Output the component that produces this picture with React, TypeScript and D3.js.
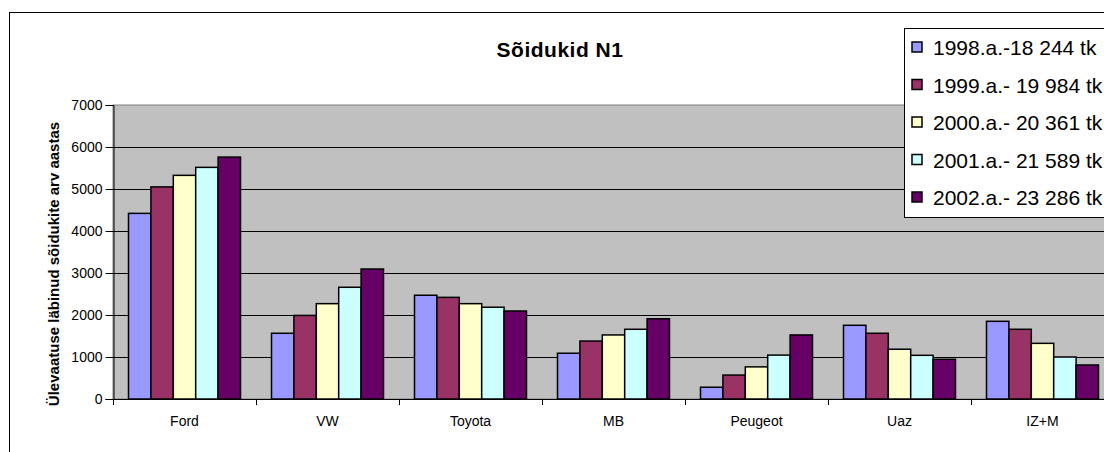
import React, { useEffect, useRef } from 'react';
import * as d3 from 'd3';

const categories = ['Ford', 'VW', 'Toyota', 'MB', 'Peugeot', 'Uaz', 'IZ+M'];
const seriesNames = [
  '1998.a.-18 244 tk',
  '1999.a.- 19 984 tk',
  '2000.a.- 20 361 tk',
  '2001.a.- 21 589 tk',
  '2002.a.- 23 286 tk',
];
const colors = ['#9999FF', '#993366', '#FFFFCC', '#CCFFFF', '#660066'];

const v1998 = [4420, 1565, 2470, 1090, 280, 1755, 1850];
const v1999 = [5050, 1990, 2420, 1380, 570, 1565, 1660];
const v2000 = [5325, 2270, 2270, 1525, 765, 1185, 1325];
const v2001 = [5515, 2660, 2185, 1660, 1045, 1040, 1000];
const v2002 = [5760, 3095, 2095, 1910, 1525, 945, 810];
const seriesValues = [v1998, v1999, v2000, v2001, v2002];

const yTicks = [0, 1000, 2000, 3000, 4000, 5000, 6000, 7000];

const font = '"Liberation Sans", Arial, sans-serif';

export default function App() {
  const ref = useRef<SVGSVGElement>(null);

  useEffect(() => {
    const W = 1104;
    const H = 452;
    const left = 113, top = 105, bottom = 399, right = 1114;

    const svg = d3.select(ref.current);
    svg.selectAll('*').remove();
    svg.attr('width', W).attr('height', H);

    svg.append('rect')
      .attr('width', W).attr('height', H).attr('fill', '#fff');

    // chart border
    svg.append('rect')
      .attr('x', 9.5).attr('y', 12.5)
      .attr('width', W + 20).attr('height', H + 20)
      .attr('fill', 'none').attr('stroke', '#000').attr('stroke-width', 1);

    const x0 = d3.scaleBand<string>()
      .domain(categories)
      .range([left, right]);

    const x1 = d3.scaleBand<number>()
      .domain(d3.range(seriesNames.length))
      .range([15.5, x0.bandwidth() - 15.5]);

    const y = d3.scaleLinear()
      .domain([0, 7000])
      .range([bottom, top]);

    // plot area
    svg.append('rect')
      .attr('x', left).attr('y', top)
      .attr('width', right - left).attr('height', bottom - top)
      .attr('fill', '#C0C0C0')
      .attr('stroke', '#808080').attr('stroke-width', 1);

    svg.append('g')
      .selectAll('line')
      .data(yTicks.filter(d => d > 0 && d < 7000))
      .join('line')
      .attr('x1', left).attr('x2', right)
      .attr('y1', d => Math.round(y(d)) + 0.5)
      .attr('y2', d => Math.round(y(d)) + 0.5)
      .attr('stroke', '#000').attr('stroke-width', 1);

    // bars
    const groups = svg.append('g')
      .selectAll('g')
      .data(seriesValues)
      .join('g')
      .attr('fill', (_, i) => colors[i]);

    groups.selectAll('rect')
      .data((vals, si) => vals.map((v, ci) => ({ v, ci, si })))
      .join('rect')
      .attr('x', d => x0(categories[d.ci])! + x1(d.si)!)
      .attr('y', d => y(d.v))
      .attr('width', x1.bandwidth())
      .attr('height', d => y(0) - y(d.v))
      .attr('stroke', '#000')
      .attr('stroke-width', 1.5);

    // axes
    const yAxis = d3.axisLeft(y)
      .tickValues(yTicks)
      .tickSize(8)
      .tickPadding(3)
      .tickFormat(d3.format('d'));

    const gy = svg.append('g')
      .attr('transform', `translate(${left + 0.5},0)`)
      .call(yAxis);
    gy.select('.domain').attr('stroke', '#000');
    gy.selectAll('text')
      .attr('font-family', font).attr('font-size', 14).attr('fill', '#000');

    svg.append('line')
      .attr('x1', left).attr('x2', right)
      .attr('y1', bottom + 0.5).attr('y2', bottom + 0.5)
      .attr('stroke', '#000');

    const boundaries = categories.map(c => x0(c)!).concat([right]);
    svg.append('g')
      .selectAll('line')
      .data(boundaries)
      .join('line')
      .attr('x1', d => Math.round(d) + 0.5).attr('x2', d => Math.round(d) + 0.5)
      .attr('y1', bottom).attr('y2', bottom + 6)
      .attr('stroke', '#000');

    svg.append('g')
      .selectAll('text')
      .data(categories)
      .join('text')
      .attr('x', d => x0(d)! + x0.bandwidth() / 2)
      .attr('y', 426)
      .attr('text-anchor', 'middle')
      .attr('font-family', font)
      .attr('font-size', 14)
      .text(d => d);

    // title
    svg.append('text')
      .attr('x', 560).attr('y', 57)
      .attr('text-anchor', 'middle')
      .attr('font-family', font)
      .attr('font-size', 21)
      .attr('font-weight', 'bold')
      .attr('letter-spacing', 0.5)
      .text('Sõidukid N1');

    // y label
    svg.append('text')
      .attr('transform', 'translate(59,264) rotate(-90)')
      .attr('text-anchor', 'middle')
      .attr('font-family', font)
      .attr('font-size', 15)
      .attr('font-weight', 'bold')
      .text('Ülevaatuse läbinud sõidukite arv aastas');

    // legend
    const lg = svg.append('g');
    lg.append('rect')
      .attr('x', 904.5).attr('y', 28.5)
      .attr('width', 300).attr('height', 189)
      .attr('fill', '#fff').attr('stroke', '#000');

    const items = lg.selectAll('g')
      .data(seriesNames)
      .join('g')
      .attr('transform', (_, i) => `translate(912,${42 + i * 37.5})`);

    items.append('rect')
      .attr('width', 10).attr('height', 10)
      .attr('fill', (_, i) => colors[i])
      .attr('stroke', '#000').attr('stroke-width', 1.5);

    items.append('text')
      .attr('x', 21).attr('y', 13)
      .attr('font-family', font)
      .attr('font-size', 21)
      .text(d => d);
  }, []);

  return (
    <svg ref={ref} style={{ position: 'absolute', left: 0, top: 0 }} />
  );
}
